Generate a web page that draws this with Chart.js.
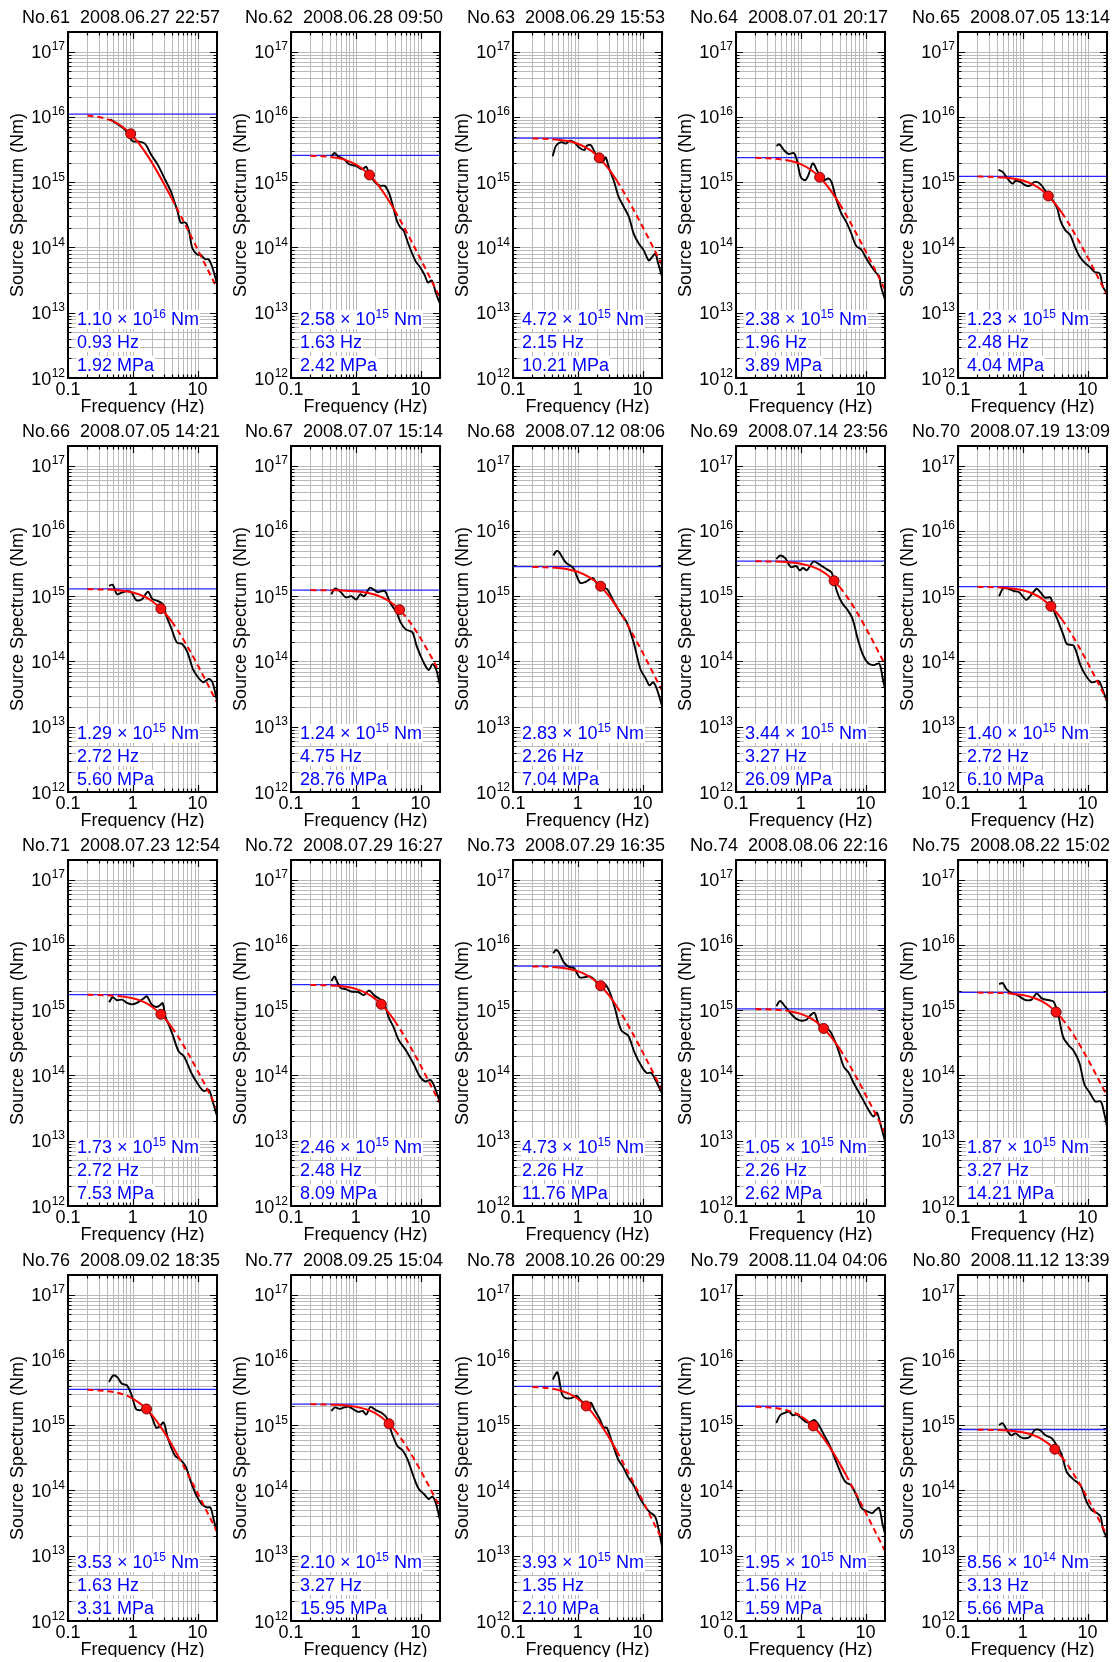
<!DOCTYPE html>
<html>
<head>
<meta charset="utf-8">
<title>Source spectra No.61-80</title>
<script src="https://cdn.jsdelivr.net/npm/chart.js@4.4.1/dist/chart.umd.min.js"></script>
<style>
  html, body { margin:0; padding:0; background:#fff; }
  #board { position:relative; width:1120px; height:1662px; overflow:hidden; background:#fff; }
  #board canvas { position:absolute; }
</style>
</head>
<body>
<div id="board"></div>
<script>
// event headers
const EVENT_NO = [61,62,63,64,65,66,67,68,69,70,71,72,73,74,75,76,77,78,79,80];
const EVENT_TIME = ['2008.06.27 22:57','2008.06.28 09:50','2008.06.29 15:53','2008.07.01 20:17','2008.07.05 13:14',
  '2008.07.05 14:21','2008.07.07 15:14','2008.07.12 08:06','2008.07.14 23:56','2008.07.19 13:09',
  '2008.07.23 12:54','2008.07.29 16:27','2008.07.29 16:35','2008.08.06 22:16','2008.08.22 15:02',
  '2008.09.02 18:35','2008.09.25 15:04','2008.10.26 00:29','2008.11.04 04:06','2008.11.12 13:39'];

// fitted parameters (printed in each panel)
const M0_MANT = ['1.10','2.58','4.72','2.38','1.23','1.29','1.24','2.83','3.44','1.40','1.73','2.46','4.73','1.05','1.87','3.53','2.10','3.93','1.95','8.56'];
const M0_EXP = [16,15,15,15,15,15,15,15,15,15,15,15,15,15,15,15,15,15,15,14];
const MOMENT = [1.10e16,2.58e15,4.72e15,2.38e15,1.23e15,1.29e15,1.24e15,2.83e15,3.44e15,1.40e15,1.73e15,2.46e15,4.73e15,1.05e15,1.87e15,3.53e15,2.10e15,3.93e15,1.95e15,8.56e14];
const FC = [0.93,1.63,2.15,1.96,2.48,2.72,4.75,2.26,3.27,2.72,2.72,2.48,2.26,2.26,3.27,1.63,3.27,1.35,1.56,3.13];
const STRESS = [1.92,2.42,10.21,3.89,4.04,5.60,28.76,7.04,26.09,6.10,7.53,8.09,11.76,2.62,14.21,3.31,15.95,2.10,1.59,5.66];
const DOT_V = [5.5e15,1.29e15,2.36e15,1.19e15,6.15e14,6.45e14,6.2e14,1.42e15,1.72e15,7.0e14,8.65e14,1.23e15,2.37e15,5.25e14,9.35e14,1.77e15,1.05e15,1.97e15,9.75e14,4.28e14];
// frequency band where the fit is drawn solid
const SOLID_LO = [0.5,0.5,0.5,0.7,0.5,0.5,0.5,0.5,0.5,0.5,0.7,0.5,0.5,0.7,0.7,1,0.5,0.5,1,0.5];
const SOLID_HI = [4,4,4,4,4,4,4,4,4,4,4,4,4,4,4,5,4,4,5,4];

// fitted curve, read at these frequencies
const FIT_F = [0.2,0.3,0.5,0.7,1,1.5,2,3,4,5,7,10,14,20];
const R61 = [1.05e16,9.96e15,8.53e15,7.02e15,5.10e15,3.05e15,1.96e15,9.64e14,5.64e14,3.68e14,1.91e14,9.43e13,4.83e13,2.37e13];
const R62 = [2.54e15,2.50e15,2.36e15,2.18e15,1.87e15,1.40e15,1.03e15,5.88e14,3.67e14,2.48e14,1.33e14,6.68e13,3.45e13,1.70e13];
const R63 = [4.68e15,4.63e15,4.48e15,4.27e15,3.88e15,3.18e15,2.53e15,1.60e15,1.06e15,7.37e14,4.07e14,2.09e14,1.09e14,5.39e13];
const R64 = [2.36e15,2.33e15,2.23e15,2.11e15,1.89e15,1.50e15,1.17e15,7.12e14,4.61e14,3.17e14,1.73e14,8.80e13,4.58e13,2.26e13];
const R65 = [1.22e15,1.21e15,1.18e15,1.14e15,1.06e15,9.01e14,7.45e14,4.99e14,3.42e14,2.43e14,1.37e14,7.13e13,3.74e13,1.86e13];
const R66 = [1.28e15,1.27e15,1.25e15,1.21e15,1.14e15,9.89e14,8.37e14,5.82e14,4.08e14,2.95e14,1.69e14,8.89e13,4.69e13,2.34e13];
const R67 = [1.24e15,1.235e15,1.23e15,1.21e15,1.19e15,1.13e15,1.05e15,8.86e14,7.26e14,5.88e14,3.91e14,2.28e14,1.28e14,6.62e13];
const R68 = [2.81e15,2.78e15,2.70e15,2.58e15,2.37e15,1.96e15,1.59e15,1.02e15,6.85e14,4.80e14,2.67e14,1.38e14,7.19e13,3.57e13];
const R69 = [3.43e15,3.41e15,3.36e15,3.29e15,3.15e15,2.84e15,2.50e15,1.87e15,1.38e15,1.03e15,6.16e14,3.32e14,1.78e14,8.96e13];
const R70 = [1.39e15,1.38e15,1.35e15,1.31e15,1.23e15,1.07e15,9.09e14,6.32e14,4.43e14,3.20e14,1.84e14,9.64e13,5.09e13,2.54e13];
const R71 = [1.72e15,1.71e15,1.67e15,1.62e15,1.52e15,1.33e15,1.12e15,7.81e14,5.47e14,3.95e14,2.27e14,1.19e14,6.29e13,3.14e13];
const R72 = [2.44e15,2.42e15,2.36e15,2.28e15,2.12e15,1.80e15,1.49e15,9.99e14,6.83e14,4.86e14,2.74e14,1.43e14,7.48e13,3.73e13];
const R73 = [4.69e15,4.65e15,4.51e15,4.32e15,3.96e15,3.28e15,2.65e15,1.71e15,1.14e15,8.02e14,4.47e14,2.30e14,1.20e14,5.96e13];
const R74 = [1.04e15,1.03e15,1.00e15,9.58e14,8.78e14,7.29e14,5.89e14,3.80e14,2.54e14,1.78e14,9.91e13,5.10e13,2.67e13,1.32e13];
const R75 = [1.86e15,1.85e15,1.83e15,1.79e15,1.71e15,1.54e15,1.36e15,1.02e15,7.49e14,5.60e14,3.35e14,1.81e14,9.68e13,4.87e13];
const R76 = [3.48e15,3.41e15,3.23e15,2.98e15,2.56e15,1.91e15,1.41e15,8.04e14,5.03e14,3.39e14,1.82e14,9.14e13,4.72e13,2.33e13];
const R77 = [2.09e15,2.08e15,2.05e15,2.01e15,1.92e15,1.73e15,1.53e15,1.14e15,8.41e14,6.29e14,3.76e14,2.03e14,1.09e14,5.47e13];
const R78 = [3.85e15,3.75e15,3.46e15,3.10e15,2.54e15,1.76e15,1.23e15,6.62e14,4.02e14,2.67e14,1.41e14,7.03e13,3.62e13,1.78e13];
const R79 = [1.92e15,1.88e15,1.77e15,1.62e15,1.38e15,1.01e15,7.38e14,4.15e14,2.57e14,1.73e14,9.23e13,4.63e13,2.39e13,1.18e13];
const R80 = [8.52e14,8.48e14,8.35e14,8.15e14,7.77e14,6.96e14,6.08e14,4.46e14,3.25e14,2.41e14,1.43e14,7.64e13,4.07e13,2.05e13];

// observed spectra (frequency, value)
const F61 = [0.45,0.61,0.77,0.91,1.02,1.22,1.54,1.94,2.44,3.08,3.89,4.37,4.91,5.51,6.57,7.38,8.28,9.86,11.1,13.2,14.8,16.7,20];
const S61 = [9.2e15,7.5e15,6.3e15,4.7e15,4.2e15,4.2e15,3.9e15,2.6e15,1.84e15,1.15e15,7.2e14,5.1e14,3.6e14,2.4e14,2.4e14,1.8e14,9.9e13,7.8e13,7.7e13,6.6e13,6.6e13,5.2e13,2.8e13];
const F62 = [0.42,0.47,0.53,0.66,0.79,1.0,1.26,1.45,1.55,1.75,2.0,2.4,2.8,3.3,3.8,4.3,4.85,5.5,6.5,8.3,9.8,11.7,13.0,15.0,17.4,20];
const S62 = [2.5e15,2.8e15,2.5e15,2.24e15,1.88e15,1.78e15,1.58e15,1.73e15,1.49e15,1.18e15,9.9e14,8.8e14,8.8e14,6.6e14,4.1e14,2.6e14,2.04e14,1.8e14,1.13e14,6.3e13,5.0e13,3.7e13,2.9e13,3.1e13,1.95e13,1.38e13];
const F63 = [0.41,0.46,0.55,0.66,0.74,0.88,1.05,1.26,1.37,1.59,1.79,2.0,2.4,2.7,3.0,3.6,4.3,5.2,6.2,7.3,8.8,10.4,12.5,14.0,15.8,17.2,20];
const S63 = [2.5e15,3.6e15,4.1e15,3.9e15,4.3e15,4.1e15,3.4e15,3.1e15,3.6e15,3.7e15,3.0e15,2.5e15,2.0e15,2.4e15,1.7e15,1.05e15,5.9e14,4.1e14,2.9e14,1.63e14,1.14e14,9.1e13,6.3e13,7.1e13,8.0e13,6.0e13,3.6e13];
const F64 = [0.42,0.47,0.55,0.65,0.78,0.87,1.0,1.17,1.32,1.53,1.77,2.0,2.3,2.66,2.97,3.55,4.2,5.1,6.0,7.2,8.6,10.2,12.2,14.5,16.3,17.2,20];
const S64 = [3.6e15,3.8e15,3.1e15,2.7e15,2.8e15,2.2e15,1.2e15,1.07e15,1.3e15,1.95e15,1.54e15,1.2e15,1.07e15,1.14e15,1.02e15,5.4e14,3.4e14,2.4e14,1.66e14,1.05e14,9.3e13,6.9e13,5.2e13,4.1e13,3.6e13,2.6e13,1.6e13];
const F65 = [0.42,0.49,0.58,0.69,0.78,0.93,1.11,1.32,1.49,1.77,2.03,2.38,2.8,3.4,3.8,4.5,5.4,6.4,7.6,9.1,10.9,12.9,15.4,17.3,20];
const S65 = [1.55e15,1.44e15,1.14e15,9.5e14,1.05e15,1.0e15,8.9e14,8.9e14,1.0e15,9.8e14,8.5e14,6.7e14,5.6e14,4.0e14,2.6e14,1.86e14,1.55e14,1.02e14,7.2e13,5.8e13,5.0e13,4.2e13,4.0e13,2.5e13,2.0e13];
const F66 = [0.43,0.49,0.57,0.68,0.83,0.96,1.13,1.37,1.72,2.0,2.4,2.9,3.3,4.0,4.8,5.8,7.0,8.5,10.2,12.3,15,17,20];
const S66 = [1.44e15,1.5e15,1.07e15,1.14e15,1.2e15,1.14e15,8.7e14,8.9e14,1.17e15,9.1e14,8.5e14,7.6e14,5.0e14,3.1e14,1.95e14,1.85e14,1.38e14,7.6e13,5.7e13,4.8e13,5.4e13,4.8e13,2.5e13];
const F67 = [0.42,0.48,0.58,0.70,0.85,1.02,1.17,1.35,1.65,1.92,2.2,2.8,3.4,4.3,4.9,5.9,7.5,8.7,11.2,13.4,15.3,17.4,20];
const S67 = [1.07e15,1.31e15,1.17e15,9.6e14,1.0e15,8.9e14,1.07e15,1.0e15,1.35e15,1.25e15,1.15e15,1.2e15,7.9e14,5.6e14,4.0e14,3.1e14,2.8e14,1.73e14,9.6e13,7.4e13,9.1e13,7.6e13,4.3e13];
const F68 = [0.42,0.47,0.51,0.65,0.85,1.09,1.32,1.7,2.05,2.5,2.85,3.45,4.5,5.7,7.3,9.3,11.3,12.8,14.5,16.3,20];
const S68 = [4.2e15,4.9e15,4.8e15,3.3e15,2.7e15,1.6e15,1.65e15,1.9e15,1.48e15,1.35e15,1.28e15,9.0e14,5.6e14,4.0e14,1.95e14,7.6e13,5.4e13,4.3e13,4.8e13,4.0e13,2.1e13];
const F69 = [0.42,0.48,0.58,0.70,0.85,0.96,1.09,1.24,1.58,1.91,2.5,3.0,3.6,4.3,5.2,6.3,7.6,9.2,11.1,13.4,16.3,18.5,20];
const S69 = [3.7e15,4.2e15,3.8e15,2.8e15,2.9e15,2.5e15,2.7e15,2.5e15,3.4e15,3.1e15,2.6e15,2.3e15,1.2e15,8.0e14,6.3e14,4.5e14,2.2e14,1.24e14,9.3e13,8.8e13,9.3e13,5.4e13,3.8e13];
const F70 = [0.43,0.50,0.60,0.73,0.88,1.13,1.3,1.64,1.87,2.2,2.7,3.1,3.5,4.3,4.8,6.1,7.8,9.5,11.6,14.9,17,20];
const S70 = [1.0e15,1.32e15,1.3e15,1.2e15,1.15e15,8.8e14,1.0e15,1.3e15,1.15e15,9.5e14,9.5e14,5.6e14,4.2e14,2.45e14,1.85e14,1.75e14,8.7e13,6.0e13,4.8e13,5.0e13,3.8e13,2.4e13];
const F71 = [0.43,0.49,0.57,0.68,0.83,1.0,1.2,1.45,1.65,1.95,2.3,2.6,2.9,3.2,3.7,4.2,5.1,6.2,8.0,10.3,12.4,15,17,20];
const S71 = [1.32e15,1.58e15,1.42e15,1.45e15,1.28e15,1.23e15,1.32e15,1.5e15,1.63e15,1.23e15,1.12e15,1.18e15,1.28e15,7.9e14,5.6e14,4.0e14,2.35e14,1.95e14,1.1e14,7.2e13,5.8e13,6.0e13,4.1e13,2.4e13];
const F72 = [0.42,0.47,0.51,0.58,0.70,0.85,1.09,1.32,1.6,1.92,2.3,2.7,3.2,3.8,4.6,6.0,7.7,9.8,11.8,14.3,16.4,20];
const S72 = [2.8e15,3.3e15,2.8e15,2.2e15,2.1e15,1.93e15,1.9e15,1.7e15,2.0e15,1.7e15,1.5e15,1.35e15,7.9e14,5.6e14,3.5e14,2.4e14,1.55e14,9.6e13,8.1e13,8.5e13,6.8e13,3.8e13];
const F73 = [0.42,0.46,0.51,0.61,0.73,0.88,1.06,1.28,1.53,1.84,2.1,2.5,3.05,3.7,4.7,6.0,7.6,9.7,11.6,13.6,15.8,20];
const S73 = [7.5e15,8.4e15,7.7e15,5.4e15,4.6e15,4.4e15,3.2e15,3.2e15,3.3e15,2.9e15,2.3e15,2.6e15,2.0e15,1.12e15,4.9e14,4.1e14,2.2e14,1.37e14,1.09e14,1.1e14,8.6e13,5.3e13];
const F74 = [0.42,0.48,0.58,0.70,0.85,1.03,1.24,1.4,1.63,1.91,2.3,2.7,3.15,3.8,4.6,5.5,6.6,8.0,9.7,11.8,13.3,15,17,20];
const S74 = [1.15e15,1.38e15,1.12e15,8.9e14,7.4e14,6.9e14,7.2e14,8.3e14,9.1e14,5.9e14,4.9e14,5.0e14,3.9e14,2.45e14,1.37e14,1.1e14,7.6e13,5.4e13,3.8e13,2.7e13,2.35e13,2.7e13,1.8e13,9.8e12];
const F75 = [0.43,0.49,0.56,0.69,0.83,1.0,1.13,1.37,1.64,2.0,2.55,3.0,3.5,4.2,5.1,6.1,7.5,9.0,10.9,13.2,16,18,20];
const S75 = [2.5e15,2.6e15,2.1e15,1.8e15,1.7e15,1.5e15,1.42e15,1.45e15,1.8e15,1.5e15,1.42e15,1.35e15,8.9e14,3.9e14,2.9e14,2.4e14,1.55e14,7.2e13,5.4e13,4.0e13,4.0e13,2.7e13,1.65e13];
const F76 = [0.43,0.50,0.58,0.68,0.81,0.96,1.13,1.37,1.65,1.95,2.3,2.6,3.0,3.5,4.5,5.4,6.6,7.9,9.6,11.6,14,15.8,17.9,20];
const S76 = [4.6e15,5.8e15,5.4e15,4.3e15,4.1e15,2.9e15,1.75e15,1.7e15,1.8e15,1.38e15,9.2e14,9.6e14,1.1e15,6.2e14,3.4e14,3.0e14,2.3e14,1.35e14,8.4e13,6.2e13,5.5e13,5.5e13,3.5e13,2.3e13];
const F77 = [0.42,0.48,0.56,0.66,0.78,0.90,1.09,1.28,1.45,1.68,2.05,2.5,3.0,3.6,4.4,5.3,6.3,7.7,9.3,11.2,13.4,15.3,17.4,20];
const S77 = [1.65e15,1.87e15,1.78e15,1.87e15,1.92e15,1.78e15,1.6e15,1.65e15,1.45e15,1.9e15,1.7e15,1.55e15,1.3e15,7.6e14,4.8e14,4.1e14,3.0e14,1.7e14,1.07e14,8.9e13,7.4e13,8.1e13,6.2e13,3.5e13];
const F78 = [0.41,0.48,0.51,0.57,0.65,0.8,0.96,1.16,1.4,1.6,1.8,2.2,2.5,2.8,3.4,4.2,5.0,6.0,7.3,8.9,10.7,12.8,15.6,17.8,20];
const S78 = [5.0e15,6.5e15,5.4e15,3.0e15,2.6e15,2.6e15,2.8e15,2.3e15,2.1e15,2.2e15,1.75e15,1.23e15,9.2e14,9.2e14,5.4e14,3.0e14,2.3e14,1.6e14,1.2e14,8.0e13,5.9e13,4.7e13,4.0e13,2.5e13,1.4e13];
const F79 = [0.42,0.48,0.57,0.66,0.75,0.87,1.03,1.24,1.4,1.63,1.91,2.3,2.8,3.4,4.1,4.9,6.0,7.2,8.7,10.5,12.7,14.3,16.2,18.4,20];
const S79 = [1.08e15,1.42e15,1.55e15,1.62e15,1.42e15,1.45e15,1.27e15,1.1e15,1.12e15,1.2e15,1.0e15,7.0e14,4.9e14,3.0e14,1.9e14,1.35e14,1.2e14,8.5e13,5.4e13,4.8e13,4.5e13,5.0e13,5.4e13,3.0e13,2.2e13];
const F80 = [0.43,0.49,0.57,0.66,0.78,0.92,1.06,1.28,1.55,1.87,2.25,2.8,3.3,4.0,4.8,6.2,7.8,9.6,11.6,14.0,15.9,17.3,20];
const S80 = [1.0e15,1.07e15,8.4e14,7.0e14,7.5e14,6.6e14,6.3e14,6.6e14,8.5e14,8.3e14,7.0e14,6.3e14,5.0e14,3.5e14,1.9e14,1.45e14,1.2e14,6.8e13,5.0e13,4.5e13,4.0e13,2.6e13,1.85e13];

// axis ticks
const X_LABEL_VALUES = [0.1, 1, 10];
const X_LABEL_TEXT = ['0.1', '1', '10'];
const Y_DECADES = [12, 13, 14, 15, 16, 17];
const X_MIN = 0.1, X_MAX = 20, Y_MIN = 1e12, Y_MAX = 2e17;

const OBS_F = [F61,F62,F63,F64,F65,F66,F67,F68,F69,F70,F71,F72,F73,F74,F75,F76,F77,F78,F79,F80];
const OBS_S = [S61,S62,S63,S64,S65,S66,S67,S68,S69,S70,S71,S72,S73,S74,S75,S76,S77,S78,S79,S80];
const FIT = [R61,R62,R63,R64,R65,R66,R67,R68,R69,R70,R71,R72,R73,R74,R75,R76,R77,R78,R79,R80];

// layout
const COLS = 5, COL_W = 222.6, ROW_H = 414.2, CW = 223, CH = 414;
const PLOT_LEFT = 68, PLOT_TOP = 32, PLOT_W = 151, XAXIS_H = 36;
const FONT = "'Liberation Sans', Arial, Helvetica, sans-serif";
const GRID_COLOR = '#bababa';

const X_GRID = [];
[-1, 0, 1].forEach(e => { for (let m = 1; m <= 9; m++) { const v = Number(m + 'e' + e); if (v <= X_MAX) X_GRID.push(v); } });
const Y_GRID = [];
Y_DECADES.forEach(e => { for (let m = 1; m <= 9; m++) { const v = Number(m + 'e' + e); if (v <= Y_MAX) Y_GRID.push(v); } });

const isMajor = v => Math.abs(Math.log10(v) - Math.round(Math.log10(v))) < 1e-6;
const crisp = p => Math.round(p) + 0.5;

function drawPieces(ctx, x, baseline, pieces, opt) {
  // pieces: [{t, sup}] drawn left to right
  let w = 0;
  for (const p of pieces) {
    ctx.font = (p.sup ? opt.sup : opt.main) + 'px ' + FONT;
    p.w = ctx.measureText(p.t).width;
    w += p.w;
  }
  if (opt.bg) {
    ctx.fillStyle = '#fff';
    ctx.fillRect(x - 1, baseline - 15, w + 2, 19);
  }
  ctx.fillStyle = opt.color;
  ctx.textAlign = 'left';
  ctx.textBaseline = 'alphabetic';
  let cx = x;
  for (const p of pieces) {
    ctx.font = (p.sup ? opt.sup : opt.main) + 'px ' + FONT;
    ctx.fillText(p.t, cx, p.sup ? baseline - opt.rise : baseline);
    cx += p.w;
  }
  return w;
}

const panelDecor = {
  id: 'panelDecor',
  beforeDatasetsDraw(chart) {
    // log grid on every 1..9 multiple
    const ctx = chart.ctx, a = chart.chartArea;
    const xs = chart.scales.x, ys = chart.scales.y;
    ctx.save();
    ctx.strokeStyle = GRID_COLOR;
    ctx.lineWidth = 1;
    ctx.beginPath();
    for (const v of X_GRID) {
      const x = crisp(xs.getPixelForValue(v));
      ctx.moveTo(x, a.top); ctx.lineTo(x, a.bottom);
    }
    for (const v of Y_GRID) {
      const y = crisp(ys.getPixelForValue(v));
      ctx.moveTo(a.left, y); ctx.lineTo(a.right, y);
    }
    ctx.stroke();
    ctx.restore();
  },
  afterDatasetsDraw(chart, args, opts) {
    const i = opts.idx, ctx = chart.ctx, a = chart.chartArea;
    ctx.save();
    const x0 = a.left + 9;
    const noteOpt = { main: 18, sup: 12, rise: 7, color: '#0000ff', bg: true };
    drawPieces(ctx, x0, a.bottom - 53, [{ t: M0_MANT[i] + ' \u00d7 10' }, { t: String(M0_EXP[i]), sup: true }, { t: ' Nm' }], noteOpt);
    drawPieces(ctx, x0, a.bottom - 30, [{ t: FC[i].toFixed(2) + ' Hz' }], noteOpt);
    drawPieces(ctx, x0, a.bottom - 7, [{ t: STRESS[i].toFixed(2) + ' MPa' }], noteOpt);
    ctx.restore();
  },
  afterDraw(chart, args, opts) {
    const i = opts.idx, ctx = chart.ctx, a = chart.chartArea;
    const xs = chart.scales.x, ys = chart.scales.y;
    ctx.save();
    // inward ticks on all four sides
    ctx.strokeStyle = '#000';
    ctx.lineWidth = 1.2;
    ctx.beginPath();
    for (const v of Y_GRID) {
      const y = crisp(ys.getPixelForValue(v));
      const len = isMajor(v) ? 7 : 3.5;
      ctx.moveTo(a.left, y); ctx.lineTo(a.left + len, y);
      ctx.moveTo(a.right, y); ctx.lineTo(a.right - len, y);
    }
    for (const v of X_GRID) {
      const x = crisp(xs.getPixelForValue(v));
      const len = isMajor(v) ? 7 : 3.5;
      ctx.moveTo(x, a.bottom); ctx.lineTo(x, a.bottom - len);
      ctx.moveTo(x, a.top); ctx.lineTo(x, a.top + len);
    }
    ctx.stroke();
    // frame
    ctx.lineWidth = 2;
    ctx.strokeRect(a.left, a.top, a.right - a.left, a.bottom - a.top);
    ctx.fillStyle = '#000';
    // y decade labels 10^n
    for (const e of Y_DECADES) {
      const y = ys.getPixelForValue(Number('1e' + e));
      ctx.font = '12px ' + FONT;
      const ew = ctx.measureText(String(e)).width;
      const right = a.left - 3;
      ctx.textAlign = 'left';
      ctx.textBaseline = 'alphabetic';
      ctx.fillText(String(e), right - ew, y - 1.5);
      ctx.font = '18px ' + FONT;
      ctx.textAlign = 'right';
      ctx.fillText('10', right - ew - 0.5, y + 6.5);
    }
    // x tick labels and axis title
    ctx.font = '18px ' + FONT;
    ctx.textAlign = 'center';
    ctx.textBaseline = 'alphabetic';
    X_LABEL_VALUES.forEach((v, k) => {
      ctx.fillText(X_LABEL_TEXT[k], xs.getPixelForValue(v), a.bottom + 17);
    });
    ctx.fillText('Frequency (Hz)', (a.left + a.right) / 2, a.bottom + 33.5);
    // panel title
    ctx.fillText('No.' + EVENT_NO[i] + '  ' + EVENT_TIME[i], 121, 23);
    ctx.restore();
  }
};

const board = document.getElementById('board');

EVENT_NO.forEach((no, i) => {
  const col = i % COLS, row = Math.floor(i / COLS);
  const cv = document.createElement('canvas');
  cv.width = CW; cv.height = CH;
  cv.style.left = Math.round(col * COL_W) + 'px';
  cv.style.top = Math.round(row * ROW_H) + 'px';
  cv.style.width = CW + 'px'; cv.style.height = CH + 'px';
  board.appendChild(cv);

  const lo = SOLID_LO[i], hi = SOLID_HI[i];
  new Chart(cv.getContext('2d'), {
    type: 'line',
    data: {
      datasets: [
        { label: 'corner', data: [{ x: FC[i], y: DOT_V[i] }], showLine: false,
          pointRadius: 5, pointBackgroundColor: '#ff1010', pointBorderColor: '#7a0000', pointBorderWidth: 1 },
        { label: 'fit', data: FIT_F.map((f, k) => ({ x: f, y: FIT[i][k] })),
          borderColor: '#ff0000', borderWidth: 2, pointRadius: 0, cubicInterpolationMode: 'monotone',
          segment: { borderDash: c => (c.p0.parsed.x >= lo - 1e-9 && c.p1.parsed.x <= hi + 1e-9) ? undefined : [6, 4] } },
        { label: 'observed', data: OBS_F[i].map((f, k) => ({ x: f, y: OBS_S[i][k] })),
          borderColor: '#000', borderWidth: 1.9, pointRadius: 0, tension: 0.3 },
        { label: 'moment', data: [{ x: X_MIN, y: MOMENT[i] }, { x: X_MAX, y: MOMENT[i] }],
          borderColor: '#2424ff', borderWidth: 1.3, pointRadius: 0 }
      ]
    },
    options: {
      responsive: false,
      animation: false,
      devicePixelRatio: 1,
      events: [],
      layout: { padding: { top: PLOT_TOP, right: CW - PLOT_LEFT - PLOT_W, bottom: 0, left: 0 } },
      plugins: { legend: { display: false }, tooltip: { enabled: false }, panelDecor: { idx: i } },
      scales: {
        x: {
          type: 'logarithmic', min: X_MIN, max: X_MAX,
          afterFit: s => { s.height = XAXIS_H; },
          ticks: { display: false },
          grid: { display: false },
          border: { display: false }
        },
        y: {
          type: 'logarithmic', min: Y_MIN, max: Y_MAX,
          afterFit: s => { s.width = PLOT_LEFT; },
          ticks: { display: false },
          grid: { display: false },
          border: { display: false },
          title: { display: true, text: 'Source Spectrum (Nm)', color: '#000', font: { family: FONT, size: 18 }, padding: { top: 7, bottom: 0 } }
        }
      }
    },
    plugins: [panelDecor]
  });
});
</script>
</body>
</html>
